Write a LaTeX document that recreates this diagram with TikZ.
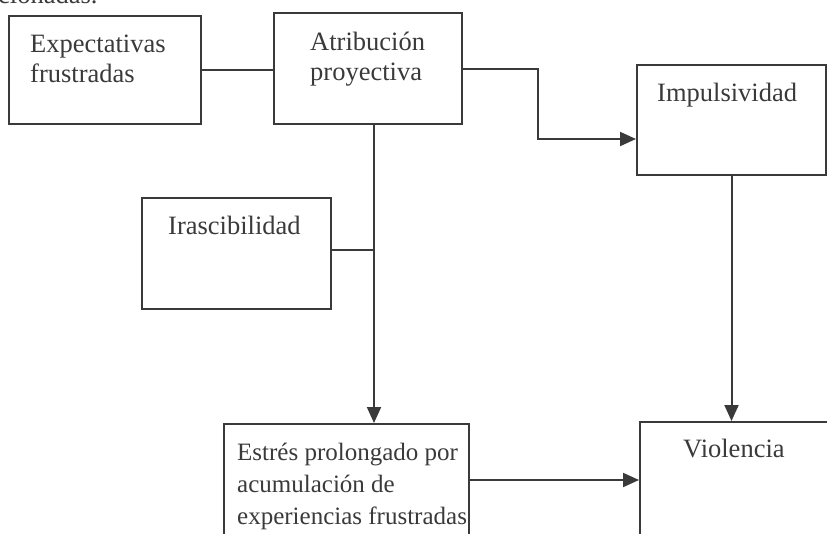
\documentclass[tikz,border=0pt]{standalone}
\usepackage{fontspec}
\setmainfont{Liberation Serif}
\usetikzlibrary{arrows.meta}
\definecolor{ink}{HTML}{3A3A3A}
\begin{document}
\begin{tikzpicture}[x=1pt,y=-1pt,
  box/.style={draw=ink,line width=2pt,rectangle,anchor=north west,inner sep=0pt,
    minimum width=#1},
  txt/.style={text=ink,anchor=base west,align=left,inner sep=0pt,
    font=\fontsize{26.5}{30}\selectfont},
  con/.style={draw=ink,line width=2pt},
  arr/.style={con,-{Triangle[length=16pt,width=14pt]}}]
\useasboundingbox (0,0) rectangle (827,533);
\clip (0,0) rectangle (827,533);
\fill[white] (0,0) rectangle (827,533);
% clipped text from the page above
\node[txt] (top) at (-2,3) {cionadas.};
% boxes
\node[box=192pt,minimum height=108pt] (Exp) at (8,15) {};
\node[box=188pt,minimum height=111pt] (Atr) at (273,12) {};
\node[box=189pt,minimum height=110pt] (Imp) at (636,64) {};
\node[box=189pt,minimum height=111pt] (Ira) at (141,197) {};
\node[box=245pt,minimum height=112pt] (Est) at (223,423) {};
\node[box=200pt,minimum height=116pt] (Vio) at (639,421) {};
% texts (base = baseline of the last line)
\node[txt] (tExp) at (30,82) {Expectativas\\frustradas};
\node[txt] (tAtr) at (310,80) {Atribución\\proyectiva};
\node[txt] (tImp) at (657,101) {Impulsividad};
\node[txt] (tIra) at (168,234) {Irascibilidad};
\node[txt,font=\fontsize{25}{32}\selectfont] (tEst) at (237,524) {Estrés prolongado por\\acumulación de\\experiencias frustradas};
\node[txt] (tVio) at (683,457) {Violencia};
% connectors
\coordinate (j) at (374,250);
\coordinate (bend) at (538,139);
\draw[con] (Exp.east) -- (Exp.east -| Atr.west);
\draw[arr] (Atr.east) -| (bend) -- (bend -| Imp.west);
\draw[arr] (Atr.south -| j) -- (Est.north -| j);
\draw[con] (Ira.east |- j) -- (j);
\draw[arr] (Imp.south) -- (Imp.south |- Vio.north);
\draw[arr] (Est.east) -- (Est.east -| Vio.west);
\end{tikzpicture}
\end{document}
